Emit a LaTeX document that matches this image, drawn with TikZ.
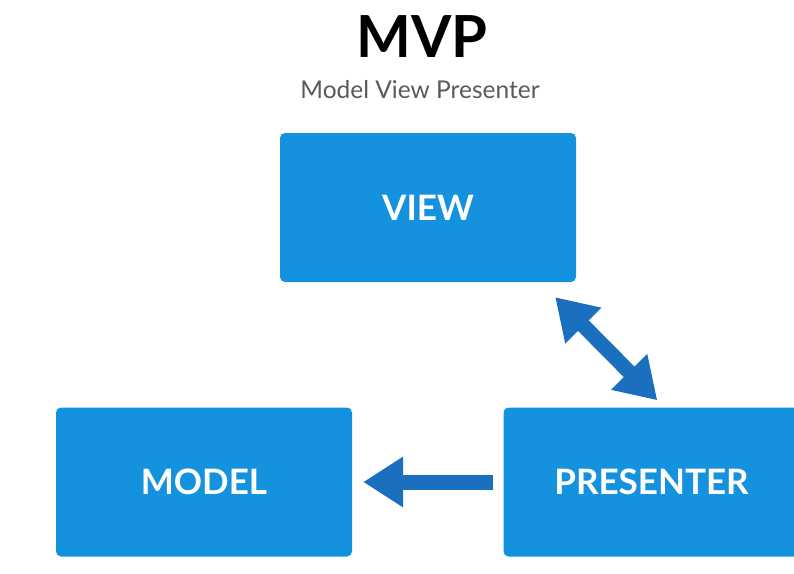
\documentclass[tikz,border=0pt]{standalone}
\usepackage{fontspec}
\setmainfont{Lato}
\usepackage{tikz}
\usetikzlibrary{arrows.meta,calc}
\definecolor{boxblue}{HTML}{1592DD}
\definecolor{arrowblue}{HTML}{1B6FBF}
\tikzset{
  part/.style={fill=boxblue, rounded corners=5pt, minimum width=296pt, minimum height=149pt,
    text=white, font=\fontsize{35}{40}\selectfont\bfseries},
  link/.style={arrowblue, line width=15pt, -{Triangle[length=40pt,width=48pt]}},
  twolink/.style={link, {Triangle[length=40pt,width=48pt]}-{Triangle[length=40pt,width=48pt]}}
}
\begin{document}
\begin{tikzpicture}[x=1pt,y=1pt]
\useasboundingbox (0,0) rectangle (794,-573);
% title
\node[anchor=base, font=\fontsize{58}{64}\selectfont\bfseries] (title) at (422,-57) {MVP};
\node[anchor=base, text=black!65, font=\fontsize{24.5}{28}\selectfont] (subtitle) at (420,-98) {Model View Presenter};

% the three parts
\node[part] (view) at (428,-207.5) {VIEW};
\node[part] (model) at (204,-482) {MODEL};
\node[part] (presenter) at (651.5,-482) {PRESENTER};

% connectors
\coordinate (vp1) at ($(view.south east)+(-21,-15)$);
\coordinate (vp2) at ($(presenter.north west)+(154,7)$);
\draw[twolink] (vp1) -- (vp2);
\draw[link, shorten <=10pt, shorten >=11pt] (presenter.west) -- (model.east);
\end{tikzpicture}
\end{document}
